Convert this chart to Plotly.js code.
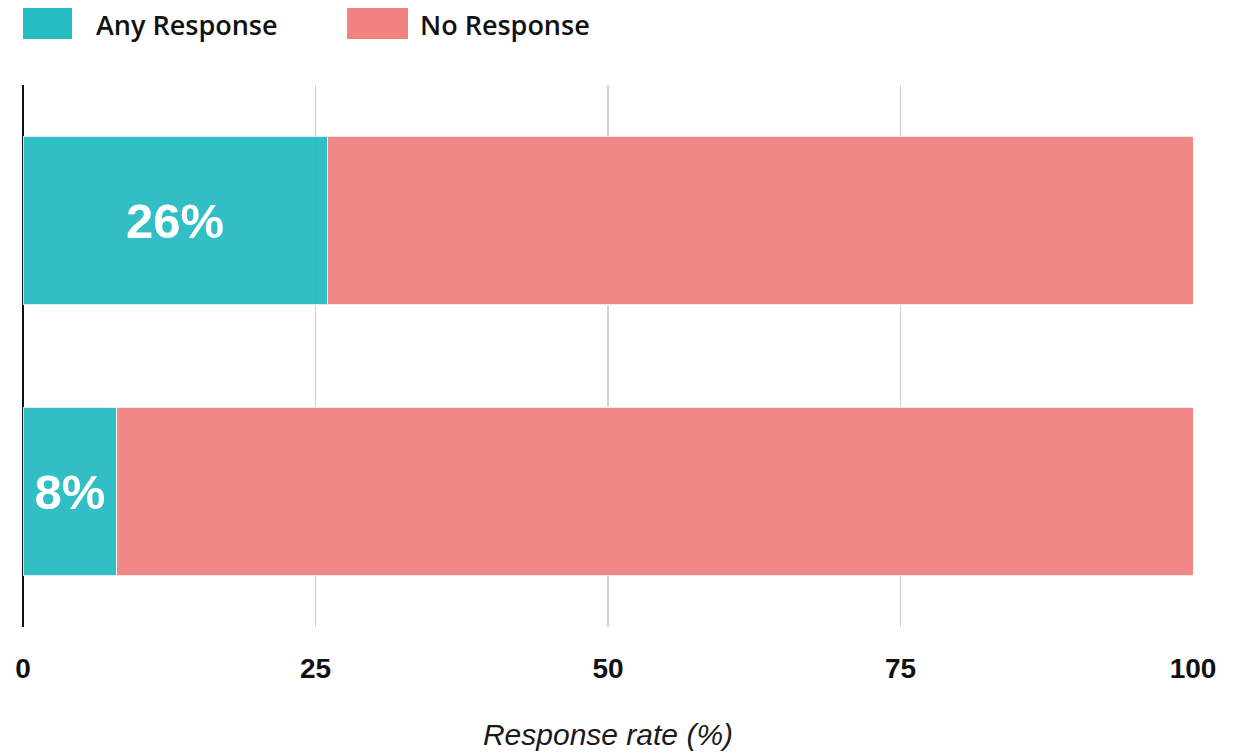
<!DOCTYPE html>
<html>
<head>
<meta charset="utf-8">
<script src="https://cdn.plot.ly/plotly-3.0.1.min.js"></script>
<style>html,body{margin:0;padding:0;background:#fff;}#chart{width:1239px;height:753px;}</style>
</head>
<body>
<div id="chart"></div>
<script>
const categories = ["Group A", "Group B"];
const seriesNames = ["Any Response", "No Response"];
const anyResponse = [26, 8];
const noResponse = [74, 92];
const xTicks = [0, 25, 50, 75, 100];
const colors = ["#26BBC2", "#F0837F"];

const traces = [
  {
    type: "bar", orientation: "h", name: seriesNames[0],
    y: categories, x: anyResponse,
    marker: {color: colors[0], opacity: 0.95, line: {color: "rgba(255,255,255,0.8)", width: 1}},
    text: anyResponse.map(v => v + "%"),
    textposition: "inside", insidetextanchor: "middle", constraintext: "none",
    textfont: {family: "Liberation Sans, Arial, sans-serif", size: 49, color: "#ffffff", weight: "bold"},
    hoverinfo: "x+name"
  },
  {
    type: "bar", orientation: "h", name: seriesNames[1],
    y: categories, x: noResponse,
    marker: {color: colors[1], opacity: 0.95, line: {color: "rgba(255,255,255,0.8)", width: 1}},
    hoverinfo: "x+name"
  }
];

// legend drawn in paper coordinates
const px = p => (p - 23) / 1170;
const py = p => (627 - p) / 542;
const legendFont = {family: "Open Sans, Liberation Sans, sans-serif", size: 27, color: "#111", weight: 600};
const legendShapes = [
  {type: "rect", xref: "paper", yref: "paper", x0: px(23), x1: px(72), y0: py(39), y1: py(8), fillcolor: colors[0], line: {width: 0}},
  {type: "rect", xref: "paper", yref: "paper", x0: px(347), x1: px(408), y0: py(39), y1: py(8), fillcolor: colors[1], line: {width: 0}}
];
const legendAnn = [
  {xref: "paper", yref: "paper", x: px(94), y: py(24), xanchor: "left", yanchor: "middle", showarrow: false, text: seriesNames[0], font: legendFont},
  {xref: "paper", yref: "paper", x: px(418), y: py(24), xanchor: "left", yanchor: "middle", showarrow: false, text: seriesNames[1], font: legendFont}
];

const layout = {
  width: 1239, height: 753,
  margin: {l: 23, r: 46, t: 85, b: 126},
  paper_bgcolor: "#fff", plot_bgcolor: "#fff",
  barmode: "stack", bargap: 0.38,
  showlegend: false,
  xaxis: {
    range: [0, 100], tickvals: xTicks, ticktext: xTicks.map(String),
    showgrid: true, gridcolor: "#d2d2d2", gridwidth: 1.5,
    zeroline: true, zerolinecolor: "#111", zerolinewidth: 2,
    showline: false, ticks: "", ticklabelstandoff: 22,
    tickfont: {family: "Liberation Sans, Arial, sans-serif", size: 28, color: "#111", weight: "bold"},
    title: {text: "<i>Response rate (%)</i>", standoff: 40,
            font: {family: "Liberation Sans, Arial, sans-serif", size: 30, color: "#1a1a1a"}},
    fixedrange: true
  },
  yaxis: {
    type: "category", autorange: "reversed", range: [1.5, -0.5],
    showticklabels: false, showgrid: false, zeroline: false, showline: false, ticks: "",
    fixedrange: true
  },
  shapes: legendShapes,
  annotations: legendAnn
};

Plotly.newPlot("chart", traces, layout, {displayModeBar: false, staticPlot: true});
</script>
</body>
</html>
